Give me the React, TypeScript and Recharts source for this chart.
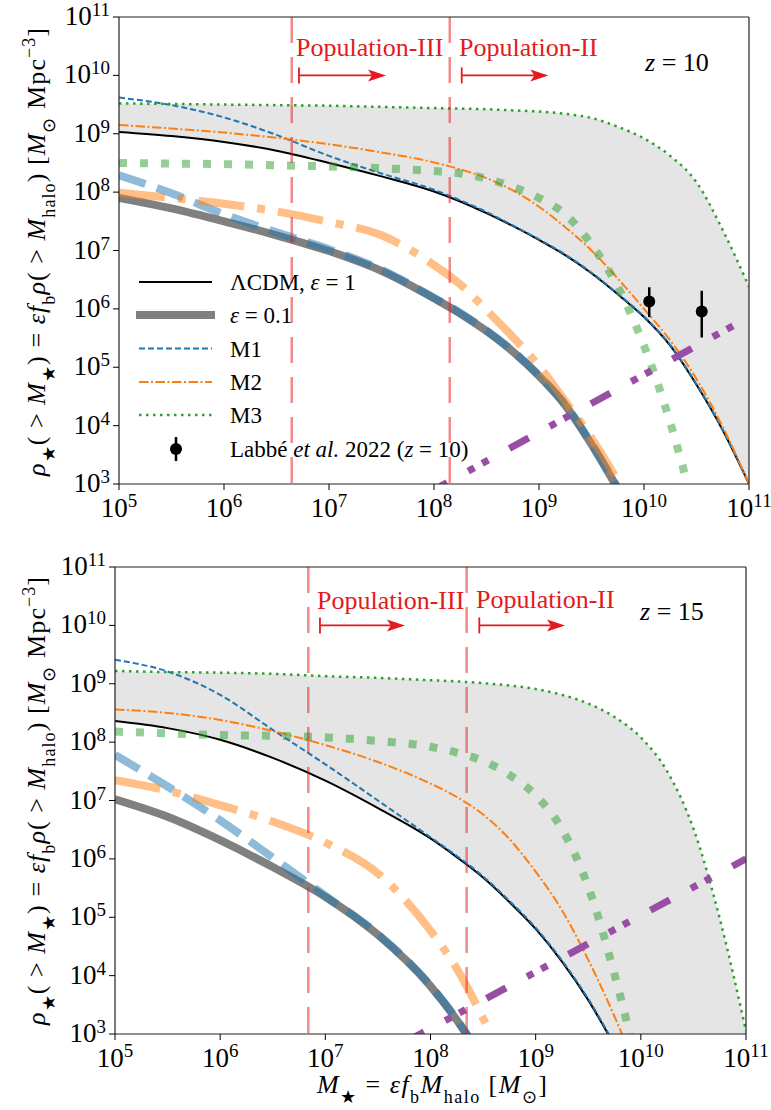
import React from 'react';
import {
  ComposedChart, Line, Area, Scatter, ErrorBar, XAxis, YAxis, ReferenceLine,
} from 'recharts';

const FONT = '"Liberation Serif", "Times New Roman", serif';
const RED = '#e41a1c';

// log10 of stellar mass (x) and log10 of cumulative density (y)
const logMass = [5, 5.5, 6, 6.5, 7, 7.5, 8, 8.25, 8.5, 8.75, 9, 9.25, 9.5, 9.75, 10, 10.25, 10.5, 10.75, 11];
const decadesX = [5, 6, 7, 8, 9, 10, 11];
const decadesY = [3, 4, 5, 6, 7, 8, 9, 10, 11];

// z = 10 panel
const lcdmZ10 = [9.03, 8.96, 8.86, 8.71, 8.50, 8.27, 8.01, 7.84, 7.64, 7.42, 7.18, 6.92, 6.61, 6.25, 5.86, 5.37, 4.70, 3.92, 3.0];
const m1Z10 = [9.62, 9.49, 9.28, 8.98, 8.62, 8.32, 8.04, 7.86, 7.66, 7.43, 7.19, 6.93, 6.62, 6.26, 5.87, 5.38, 4.71, 3.93, 3.0];
const m2Z10 = [9.15, 9.09, 9.02, 8.93, 8.82, 8.68, 8.51, 8.39, 8.24, 8.03, 7.75, 7.40, 7.00, 6.52, 6.0, 5.46, 4.80, 3.98, 3.0];
const m3Z10 = [9.52, 9.51, 9.50, 9.49, 9.48, 9.46, 9.44, 9.43, 9.42, 9.40, 9.38, 9.34, 9.27, 9.12, 8.92, 8.62, 8.17, 7.35, 6.38];
const lcdmLowZ10 = [7.90, 7.72, 7.50, 7.26, 6.99, 6.65, 6.18, 5.92, 5.62, 5.27, 4.85, 4.35, 3.68, 2.92, null, null, null, null, null];
const m1LowZ10 = [8.29, 7.98, 7.62, 7.31, 7.02, 6.67, 6.19, 5.93, 5.63, 5.28, 4.86, 4.36, 3.69, 2.93, null, null, null, null, null];
const m2LowZ10 = [7.99, 7.90, 7.80, 7.67, 7.49, 7.26, 6.75, 6.42, 5.98, 5.52, 5.02, 4.42, 3.79, 3.05, 2.2, null, null, null, null];
const m3LowZ10 = [8.50, 8.49, 8.48, 8.46, 8.44, 8.41, 8.36, 8.32, 8.23, 8.09, 7.90, 7.62, 7.10, 6.38, 5.37, 4.05, 2.4, null, null];
const purpleZ10 = [null, null, null, null, null, null, 2.90, null, null, null, null, null, null, null, null, null, null, null, 5.86];

// Labbé et al. 2022 points (log10 values)
const labbeX = [10.05, 10.55];
const labbeY = [6.125, 5.955];
const labbeErrLo = [0.265, 0.445];
const labbeErrHi = [0.245, 0.355];

// z = 15 panel
const lcdmZ15 = [8.36, 8.24, 8.04, 7.73, 7.34, 6.87, 6.35, 6.03, 5.68, 5.26, 4.80, 4.24, 3.58, 2.80, null, null, null, null, null];
const m1Z15 = [9.41, 9.21, 8.81, 8.21, 7.62, 7.00, 6.37, 6.05, 5.70, 5.28, 4.82, 4.26, 3.60, 2.82, null, null, null, null, null];
const m2Z15 = [8.56, 8.50, 8.38, 8.19, 7.95, 7.66, 7.29, 7.06, 6.76, 6.34, 5.78, 5.12, 4.27, 3.30, 2.2, null, null, null, null];
const m3Z15 = [9.22, 9.20, 9.19, 9.17, 9.13, 9.10, 9.06, 9.04, 9.01, 8.97, 8.91, 8.81, 8.66, 8.43, 8.08, 7.50, 6.52, 4.98, 3.05];
const lcdmLowZ15 = [7.02, 6.72, 6.32, 5.86, 5.35, 4.70, 3.82, 3.24, 2.55, null, null, null, null, null, null, null, null, null, null];
const m1LowZ15 = [7.78, 7.24, 6.66, 6.02, 5.37, 4.71, 3.83, 3.25, 2.56, null, null, null, null, null, null, null, null, null, null];
const m2LowZ15 = [7.35, 7.17, 6.92, 6.64, 6.28, 5.75, 4.77, 4.12, 3.27, 2.3, null, null, null, null, null, null, null, null, null];
const m3LowZ15 = [8.18, 8.15, 8.12, 8.11, 8.08, 8.02, 7.92, 7.82, 7.68, 7.44, 7.09, 6.51, 5.52, 4.02, 2.2, null, null, null, null];
const purpleZ15 = [null, null, null, null, null, 2.61, null, null, null, null, null, null, null, null, null, null, null, null, 6.0];

// population boundaries and arrow spans (log10 M)
const popLinesZ10 = [6.645, 8.15];
const popArrowsZ10 = [[6.714, 7.543], [8.264, 9.089]];
const popLinesZ15 = [6.838, 8.344];
const popArrowsZ15 = [[6.949, 7.757], [8.464, 9.279]];
const arrowLevel = 10;

const FLOOR = 2;

const buildRows = (lcdm, m1, m2, m3, lcdmLow, m1Low, m2Low, m3Low, purple) =>
  logMass.map((x, i) => ({
    x,
    lcdm: lcdm[i], m1: m1[i], m2: m2[i], m3: m3[i],
    lcdmLow: lcdmLow[i], m1Low: m1Low[i], m2Low: m2Low[i], m3Low: m3Low[i],
    purple: purple[i],
    band: [lcdm[i] ?? FLOOR, m3[i]],
  }));

const rowsZ10 = buildRows(lcdmZ10, m1Z10, m2Z10, m3Z10, lcdmLowZ10, m1LowZ10, m2LowZ10, m3LowZ10, purpleZ10);
const rowsZ15 = buildRows(lcdmZ15, m1Z15, m2Z15, m3Z15, lcdmLowZ15, m1LowZ15, m2LowZ15, m3LowZ15, purpleZ15);
const labbeRows = labbeX.map((x, i) => ({ x, y: labbeY[i], err: [labbeErrLo[i], labbeErrHi[i]] }));

const XTick = (p: any) => (
  <text x={p.x} y={p.y + 25} textAnchor="middle" fontFamily={FONT} fontSize={27} fill="#000">
    10<tspan fontSize={19} dy={-10}>{p.payload.value}</tspan>
  </text>
);

const YTick = (p: any) => (
  <text x={p.x - 1} y={p.y + 8} textAnchor="end" fontFamily={FONT} fontSize={27} fill="#000">
    10<tspan fontSize={19} dy={-9}>{p.payload.value}</tspan>
  </text>
);

const Arrow = (p: any) => {
  const { x1, y1, x2 } = p;
  return (
    <g>
      <line x1={x1} y1={y1 - 8} x2={x1} y2={y1 + 8} stroke={RED} strokeWidth={1.8} />
      <line x1={x1} y1={y1} x2={x2 - 12} y2={y1} stroke={RED} strokeWidth={1.8} />
      <polygon points={`${x2},${y1} ${x2 - 18},${y1 - 6} ${x2 - 14},${y1} ${x2 - 18},${y1 + 6}`} fill={RED} />
    </g>
  );
};

const Panel = ({ rows, height, margin, popLines, popArrows, points, purpleOffset }: any) => (
  <ComposedChart width={771} height={height} data={rows} margin={margin}>
    <XAxis dataKey="x" type="number" domain={[5, 11]} ticks={decadesX} allowDataOverflow interval={0}
      tick={<XTick />} tickSize={6} tickLine={{ stroke: '#000' }} axisLine={{ stroke: '#222', strokeWidth: 1.2 }} height={40} />
    <YAxis type="number" domain={[3, 11]} ticks={decadesY} allowDataOverflow interval={0}
      tick={<YTick />} tickSize={6} tickLine={{ stroke: '#000' }} axisLine={{ stroke: '#222', strokeWidth: 1.2 }} width={60} />
    <Area dataKey="band" type="monotone" fill="#e5e5e5" fillOpacity={1} stroke="none" isAnimationActive={false} />
    <Line dataKey="lcdm" type="monotone" stroke="#000" strokeWidth={2} dot={false} activeDot={false} isAnimationActive={false} />
    <Line dataKey="m1" type="monotone" stroke="#1f77b4" strokeWidth={2} strokeDasharray="6 3" dot={false} activeDot={false} isAnimationActive={false} />
    <Line dataKey="m2" type="monotone" stroke="#ff7f0e" strokeWidth={2} strokeDasharray="9.5 2.5 2 2.5" dot={false} activeDot={false} isAnimationActive={false} />
    <Line dataKey="m3" type="monotone" stroke="#2ca02c" strokeWidth={2.5} strokeDasharray="2.5 4.5" dot={false} activeDot={false} isAnimationActive={false} />
    <Line dataKey="lcdmLow" type="monotone" stroke="#808080" strokeWidth={8} dot={false} activeDot={false} isAnimationActive={false} />
    <Line dataKey="m1Low" type="monotone" stroke="#1f77b4" strokeOpacity={0.5} strokeWidth={8} strokeDasharray="28 12" dot={false} activeDot={false} isAnimationActive={false} />
    <Line dataKey="m2Low" type="monotone" stroke="#ff7f0e" strokeOpacity={0.5} strokeWidth={8} strokeDasharray="46 13 8 13" dot={false} activeDot={false} isAnimationActive={false} />
    <Line dataKey="m3Low" type="monotone" stroke="#2ca02c" strokeOpacity={0.5} strokeWidth={8} strokeDasharray="8 13" dot={false} activeDot={false} isAnimationActive={false} />
    <Line dataKey="purple" type="linear" connectNulls stroke="#984ea3" strokeWidth={7} strokeDasharray="22 24 7 9 7 24"
      strokeDashoffset={purpleOffset} dot={false} activeDot={false} isAnimationActive={false} />
    {popLines.map((v: number) => (
      <ReferenceLine key={v} segment={[{ x: v, y: 11 }, { x: v, y: 3 }]} stroke={RED} strokeOpacity={0.5} strokeWidth={2.5} strokeDasharray="26 14" />
    ))}
    {popArrows.map((a: number[]) => (
      <ReferenceLine key={a[0]} segment={[{ x: a[0], y: arrowLevel }, { x: a[1], y: arrowLevel }]} shape={Arrow} />
    ))}
    <ReferenceLine y={11} stroke="#222" strokeWidth={1.2} />
    <ReferenceLine x={11} stroke="#222" strokeWidth={1.2} />
    {points && (
      <Scatter data={points} dataKey="y" isAnimationActive={false}
        shape={(s: any) => <circle cx={s.cx} cy={s.cy} r={6} fill="#000" />}>
        <ErrorBar dataKey="err" direction="y" width={0} stroke="#000" strokeWidth={2.5} />
      </Scatter>
    )}
  </ComposedChart>
);

const Sub = ({ children, size = 18 }: any) => <tspan fontSize={size} baselineShift="sub">{children}</tspan>;
const It = ({ children }: any) => <tspan fontStyle="italic">{children}</tspan>;

const YLabel = ({ x, y }: any) => (
  <text transform={`translate(${x},${y}) rotate(-90)`} textAnchor="middle" fontFamily={FONT} fontSize={26} fill="#000"
    textLength={448} lengthAdjust="spacing">
    <It>ρ</It><Sub>★</Sub>{'( > '}<It>M</It><Sub>★</Sub>{') = '}<It>εf</It><Sub>b</Sub><It>ρ</It>{'( > '}<It>M</It><Sub>halo</Sub>{')  ['}<It>M</It><Sub>⊙</Sub>{'  Mpc'}<tspan fontSize={18} baselineShift="super">−3</tspan>{']'}
  </text>
);

const legendRows = [282, 315, 348.5, 382, 415, 449];

const Overlay = () => (
  <svg width={771} height={1110} style={{ position: 'absolute', left: 0, top: 0, pointerEvents: 'none' }}>
    <g fontFamily={FONT} fill={RED} fontSize={26}>
      <text x={296} y={56}>Population-III</text>
      <text x={459} y={56}>Population-II</text>
      <text x={317} y={609}>Population-III</text>
      <text x={476} y={608}>Population-II</text>
    </g>
    <g fontFamily={FONT} fill="#000" fontSize={26}>
      <text x={645} y={71}><It>z</It>{' = 10'}</text>
      <text x={640} y={620}><It>z</It>{' = 15'}</text>
    </g>
    <YLabel x={45} y={252} />
    <YLabel x={45} y={801} />
    <text x={317} y={1093} fontFamily={FONT} fontSize={26} fill="#000" textLength={230} lengthAdjust="spacing">
      <It>M</It><Sub>★</Sub>{' = '}<It>εf</It><Sub>b</Sub><It>M</It><Sub>halo</Sub>{' ['}<It>M</It><Sub>⊙</Sub>{']'}
    </text>
    <g fontFamily={FONT} fontSize={23} fill="#000">
      <line x1={139} x2={212} y1={legendRows[0]} y2={legendRows[0]} stroke="#000" strokeWidth={2} />
      <text x={230} y={legendRows[0] + 8}>{'ΛCDM, '}<It>ε</It>{' = 1'}</text>
      <line x1={136} x2={215} y1={legendRows[1]} y2={legendRows[1]} stroke="#808080" strokeWidth={8} />
      <text x={230} y={legendRows[1] + 8}><It>ε</It>{' = 0.1'}</text>
      <line x1={139} x2={212} y1={legendRows[2]} y2={legendRows[2]} stroke="#1f77b4" strokeWidth={2} strokeDasharray="6 3" />
      <text x={230} y={legendRows[2] + 8}>M1</text>
      <line x1={139} x2={212} y1={legendRows[3]} y2={legendRows[3]} stroke="#ff7f0e" strokeWidth={2} strokeDasharray="9.5 2.5 2 2.5" />
      <text x={230} y={legendRows[3] + 8}>M2</text>
      <line x1={139} x2={212} y1={legendRows[4]} y2={legendRows[4]} stroke="#2ca02c" strokeWidth={2.5} strokeDasharray="2.5 4.5" />
      <text x={230} y={legendRows[4] + 8}>M3</text>
      <line x1={176} x2={176} y1={legendRows[5] - 12} y2={legendRows[5] + 12} stroke="#000" strokeWidth={2.5} />
      <circle cx={176} cy={legendRows[5]} r={6} fill="#000" />
      <text x={230} y={legendRows[5] + 8}>{'Labbé '}<It>et al.</It>{' 2022 ('}<It>z</It>{' = 10)'}</text>
    </g>
  </svg>
);

export default function App() {
  return (
    <div style={{ position: 'absolute', left: 0, top: 0, width: 771, height: 1110, background: '#fff' }}>
      <div style={{ position: 'absolute', left: 0, top: 0 }}>
        <Panel rows={rowsZ10} height={540} margin={{ top: 17, right: 22, bottom: 16, left: 59 }}
          popLines={popLinesZ10} popArrows={popArrowsZ10} points={labbeRows} purpleOffset={7} />
      </div>
      <div style={{ position: 'absolute', left: 0, top: 540 }}>
        <Panel rows={rowsZ15} height={570} margin={{ top: 27, right: 25, bottom: 36, left: 55 }}
          popLines={popLinesZ15} popArrows={popArrowsZ15} purpleOffset={62.6} />
      </div>
      <Overlay />
    </div>
  );
}
